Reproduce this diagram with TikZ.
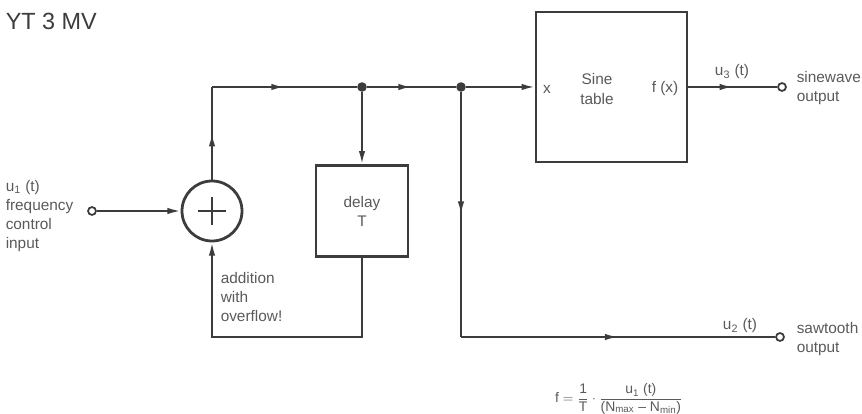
\documentclass[tikz,border=0pt]{standalone}
\usepackage{fontspec}
\setmainfont{Liberation Sans}
\usetikzlibrary{arrows.meta,decorations.markings}
\definecolor{ink}{HTML}{3C3C3C}
\definecolor{print}{HTML}{5A5A5A}

\begin{document}
\begin{tikzpicture}[
    x=0.24mm, y=-0.24mm,
    font=\fontsize{10.5}{13}\selectfont,
    wire/.style={ink, line width=1.3pt},
    flow/.style={wire, -{Latex[length=9pt,width=4.4pt]}},
    midflow/.style={wire, postaction={decorate},
        decoration={markings,
            mark=at position 0.5 with {\arrow{Latex[length=9pt,width=4.4pt]}}}},
    block/.style={draw=ink, line width=1.9pt, fill=white},
    port/.style={circle, draw=ink, line width=1.2pt, fill=white,
                 inner sep=0pt, minimum size=1.9mm},
    joint/.style={circle, fill=ink, inner sep=0pt, minimum size=2.3mm},
    txt/.style={text=print, align=left, inner sep=1pt}
]
\useasboundingbox (0,0) rectangle (862,414);

\node[txt, text=ink, anchor=west, font=\fontsize{16}{20}\selectfont] (title) at (4,21) {YT 3 MV};

% blocks
\node[block, circle, minimum size=14.4mm, inner sep=0pt] (add) at (212,211) {};
\draw[wire] (add.center) ++(-14,0) -- ++(28,0);
\draw[wire] (add.center) ++(0,-14) -- ++(0,28);
\node[block, minimum width=22.1mm, minimum height=21.8mm, txt, align=center]
    (delay) at (362,211) {delay\\T};
\node[block, minimum width=36.2mm, minimum height=36mm] (sine) at (611.5,87) {};
\node[txt] (sx) at (547,89) {x};
\node[txt, align=center] (stab) at (597,89) {Sine\\table};
\node[txt] (sfx) at (665,89) {f (x)};

% ports and branch points
\node[port] (in) at (92,211) {};
\node[port] (out1) at (782,87) {};
\node[port] (out2) at (780,337) {};
\coordinate (corner) at (212,87);
\node[joint] (dot1) at (362,87) {};
\node[joint] (dot2) at (461,87) {};
\coordinate (saw) at (461,337);
\coordinate (fb) at (212,337);

% connections
\draw[flow] (in) -- (add.west);
\draw[midflow] (add.north) -- (corner);
\draw[midflow] (corner) -- (dot1);
\draw[midflow] (dot1) -- (dot2);
\draw[flow] (dot2) -- (sine.west);
\draw[flow] (dot1) -- (delay.north);
\draw[flow] (delay.south) |- (fb) -- (add.south);
\draw[midflow] (sine.east) -- (out1);
\draw[midflow] (dot2) -- (saw);
\draw[midflow] (saw) -- (out2);

% labels
\node[txt, anchor=west] (inlabel) at (4,216)
    {u\textsubscript{1} (t)\\frequency\\control\\input};
\node[txt, anchor=west] (ovf) at (219,297) {addition\\with\\overflow!};
\node[txt] (u3) at (732,72) {u\textsubscript{3} (t)};
\node[txt] (u2) at (740,326) {u\textsubscript{2} (t)};
\node[txt, anchor=west] (sinlabel) at (795,88) {sinewave\\output};
\node[txt, anchor=west] (sawlabel) at (795,339) {sawtooth\\output};
\node[txt, font=\fontsize{9.5}{11}\selectfont] (formula) at (619,399)
    {$\hbox{f} = \displaystyle\frac{\hbox{1}}{\hbox{T}}\cdot
      \frac{\hbox{u\textsubscript{1} (t)}}{\hbox{(N\textsubscript{max} -- N\textsubscript{min})}}$};

\end{tikzpicture}
\end{document}
